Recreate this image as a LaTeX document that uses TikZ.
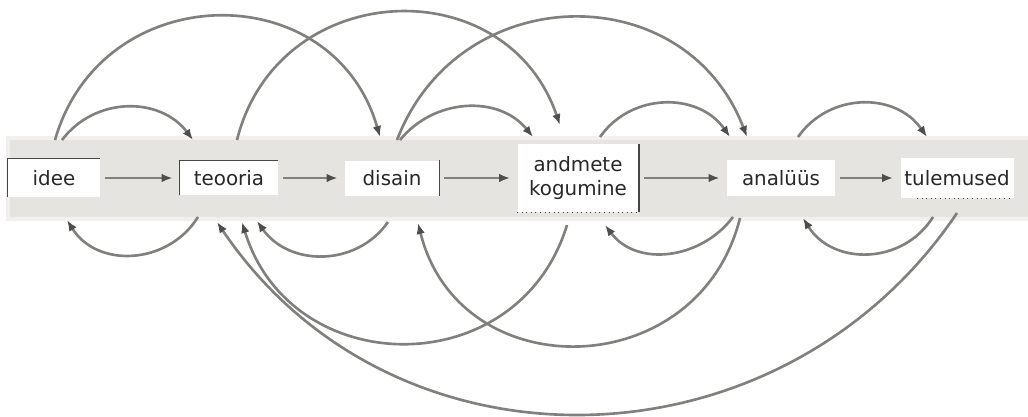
\documentclass[tikz,border=0pt]{standalone}
\usepackage{fontspec}
\setmainfont{DejaVu Sans}
\usetikzlibrary{arrows.meta}
\definecolor{bandgray}{RGB}{229,228,224}
\definecolor{linegray}{RGB}{128,128,124}
\definecolor{tipgray}{RGB}{78,78,76}
\definecolor{framegray}{RGB}{70,70,70}
\definecolor{textgray}{RGB}{40,40,40}

\begin{document}
\begin{tikzpicture}[x=0.2mm, y=0.2mm, >={Latex[length=2.2mm,width=1.7mm,color=tipgray]},
        main/.style = {fill=white, text=textgray, inner sep=0pt, align=center, font=\fontsize{11.3}{14}\selectfont},
        flow/.style = {->, draw=linegray, line width=1.5pt},
        frame/.style = {draw=framegray, line width=0.9pt}]
    \useasboundingbox (0,0) rectangle (1028,-416);
    % band behind the boxes
    \fill[bandgray!55] (6,-136) rectangle (1028,-221);
    \fill[bandgray] (10,-140) rectangle (1028,-217);
    \node[main, minimum width=18.4mm, minimum height=7.6mm] (1) at (54,-178) {idee};
    \node[main, minimum width=19.6mm, minimum height=6.8mm] (2) at (229,-178) {teooria};
    \node[main, minimum width=18.8mm, minimum height=7mm] (3) at (392,-178) {disain};
    \node[main, minimum width=24.2mm, minimum height=13.6mm] (4) at (578,-178) {andmete\\kogumine};
    \node[main, minimum width=21.6mm, minimum height=7.2mm] (5) at (781,-178) {analüüs};
    \node[main, minimum width=22.6mm, minimum height=8mm] (6) at (957,-178) {tulemused};
    \draw[frame] (1.south west) -- (1.north west) -- (1.north east);
    \draw[frame] (2.south west) -- (2.north west) -- (2.north east);
    \draw[frame] (3.north east) -- (3.south east);
    \draw[frame] (4.north east) -- (4.south east);
    \draw[frame, line width=0.6pt, dotted] (4.south west) -- (4.south east);
    \draw[frame, line width=0.6pt, dotted] ([xshift=3.4mm]6.south west) -- ([xshift=-1mm]6.south east);
    % forward
    \draw[flow, shorten <=1mm, shorten >=1.4mm] (1) -- (2);
    \draw[flow, shorten <=1mm, shorten >=1.4mm] (2) -- (3);
    \draw[flow, shorten <=1mm, shorten >=1.4mm] (3) -- (4);
    \draw[flow, shorten <=1mm, shorten >=1.4mm] (4) -- (5);
    \draw[flow, shorten <=1mm, shorten >=1.4mm] (5) -- (6);
    % over the top
    \draw[flow] ([shift={(8,38)}]1.center) to[out=53, in=127, looseness=1.07] ([shift={(-36,38)}]2.center);
    \draw[flow] ([shift={(8,38)}]3.center) to[out=51, in=129, looseness=1.04] ([shift={(-45,41)}]4.center);
    \draw[flow] ([shift={(22,41)}]4.center) to[out=55, in=125, looseness=1.08] ([shift={(-51,41)}]5.center);
    \draw[flow] ([shift={(17,41)}]5.center) to[out=55, in=125, looseness=1.09] ([shift={(-30,41)}]6.center);
    \draw[flow] ([shift={(1,38)}]1.center) to[out=74, in=106, looseness=1.33] ([shift={(-12,41)}]3.center);
    \draw[flow] ([shift={(8,38)}]2.center) to[out=76, in=109, looseness=1.32] ([shift={(-18,53)}]4.center);
    \draw[flow] ([shift={(5,38)}]3.center) to[out=69, in=111, looseness=1.26] ([shift={(-34,41)}]5.center);
    % back underneath
    \draw[flow] ([shift={(-31,-39)}]2.center) to[out=238, in=-58, looseness=1.11] ([shift={(13,-42)}]1.center);
    \draw[flow] ([shift={(-4,-44)}]3.center) to[out=235, in=-55, looseness=1.08] ([shift={(28,-43)}]2.center);
    \draw[flow] ([shift={(-48,-39)}]5.center) to[out=233, in=-53, looseness=1.06] ([shift={(27,-47)}]4.center);
    \draw[flow] ([shift={(-24,-39)}]6.center) to[out=238, in=-58, looseness=1.11] ([shift={(22,-40)}]5.center);
    \draw[flow] ([shift={(-11,-47)}]4.center) to[out=253, in=-73, looseness=1.31] ([shift={(13,-44)}]2.center);
    \draw[flow] ([shift={(-41,-40)}]5.center) to[out=256, in=-76, looseness=1.36] ([shift={(26,-45)}]3.center);
    \draw[flow] ([shift={(0,-35)}]6.center) to[out=236, in=-56, looseness=1.09] ([shift={(-12,-44)}]2.center);
\end{tikzpicture}
\end{document}
